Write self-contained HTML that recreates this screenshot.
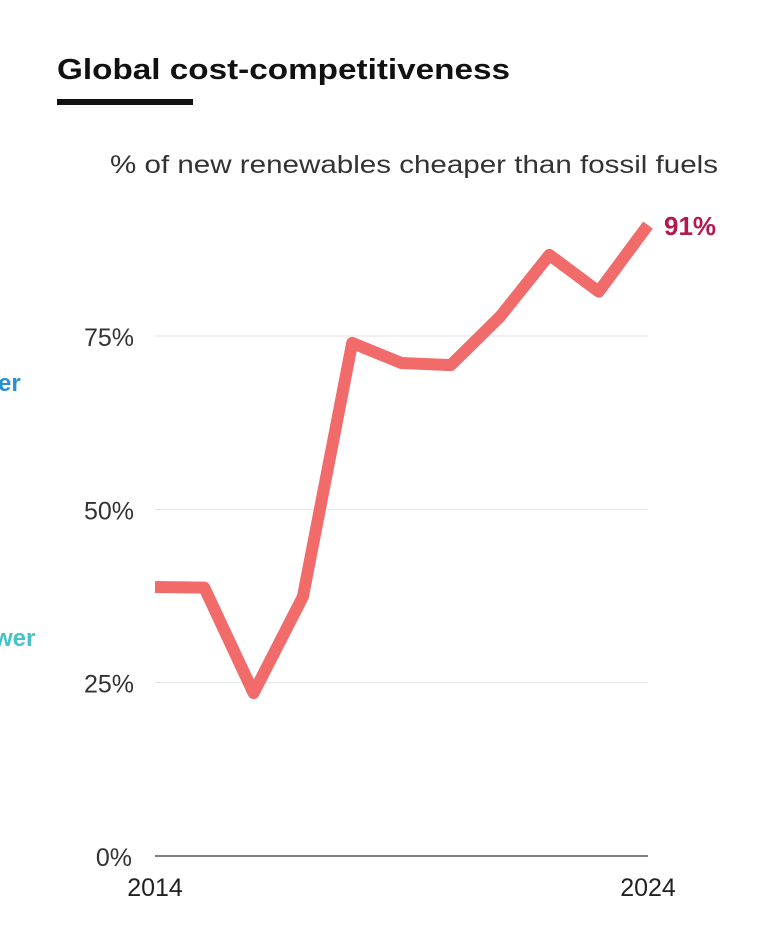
<!DOCTYPE html>
<html><head><meta charset="utf-8"><style>
body{margin:0;width:764px;height:936px;background:#fff;overflow:hidden;font-family:"Liberation Sans",sans-serif;}
svg{display:block}
</style></head><body>
<svg width="764" height="936">
<text x="57" y="79" font-size="29" font-weight="bold" fill="#111" textLength="453" lengthAdjust="spacingAndGlyphs">Global cost-competitiveness</text>
<rect x="57" y="99" width="136" height="6" fill="#111"/>
<text x="110" y="173" font-size="25" fill="#333" textLength="608" lengthAdjust="spacingAndGlyphs">% of new renewables cheaper than fossil fuels</text>
<text x="-2" y="391" font-size="24" font-weight="bold" fill="#2a8fd0">er</text>
<text x="-6" y="646" font-size="24" font-weight="bold" fill="#46c2c8">wer</text>
<g id="grid"></g><g id="series"></g>
</svg>
<script>
const years=[2014,2015,2016,2017,2018,2019,2020,2021,2022,2023,2024];
const values=[38.8,38.7,23.5,37.4,74,71.1,70.8,77.8,86.7,81.4,91];
const yTicks=[0,25,50,75];
const xLabels=[2014,2024];
const NS="http://www.w3.org/2000/svg";
const x=v=>155+(v-2014)*(648-155)/10;
const y=v=>856-v*(856-336)/75;
const g=document.getElementById('grid'),s=document.getElementById('series');
function mk(tag,attrs,parent){const e=document.createElementNS(NS,tag);for(const k in attrs)e.setAttribute(k,attrs[k]);parent.appendChild(e);return e;}
yTicks.forEach(t=>{
 const l=mk('line',{x1:155,x2:648,y1:y(t),y2:y(t),stroke:t===0?'#555':'#e2e2e2','stroke-width':t===0?1.5:1},g);
 
 
 const tx=mk('text',{x:t===0?132:134,y:y(t)+10,'text-anchor':'end','font-size':25,fill:'#333'},g);
 tx.textContent=t+'%';
 
 
});
xLabels.forEach(v=>{
 const tx=mk('text',{x:x(v),y:896,'text-anchor':'middle','font-size':25,fill:'#222'},g);
 tx.textContent=v;
 
 
});
const pts=years.map((yr,i)=>x(yr)+','+y(values[i])).join(' ');
const pl=mk('polyline',{points:pts,fill:'none',stroke:'#f26b6b','stroke-width':12,'stroke-linejoin':'round'},s);


const last=values.length-1;
const lab=mk('text',{x:664,y:y(values[last])+10,'font-size':26,'font-weight':'bold',fill:'#b5174f'},s);
lab.textContent=values[last]+'%';


</script>
</body></html>
